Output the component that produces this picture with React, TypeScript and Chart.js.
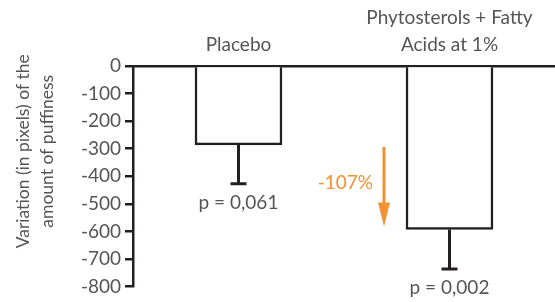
import React, { useEffect, useRef } from 'react';
import { Chart, registerables } from 'chart.js';

Chart.register(...registerables);

const categories: string[][] = [['Placebo'], ['Phytosterols + Fatty', 'Acids at 1%']];
const means: number[] = [-286, -593];
const errorLows: number[] = [-427, -736];
const pValues: string[] = ['p = 0,061', 'p = 0,002'];
const changeLabel = '-107%';
const yMin = -800;
const yMax = 0;
const yStep = 100;
const yTitle: string[] = ['Variation (in pixels) of the', 'amount of puffiness'];

const FONT = 'Lato, "Open Sans", sans-serif';
const TEXT = '#555555';
const INK = '#231f20';
const ORANGE = '#f39232';

const overlay = {
  id: 'overlay',
  afterDraw(chart: any) {
    const { ctx, chartArea, scales } = chart;
    const x = scales.x;
    const y = scales.y;
    const meta = chart.getDatasetMeta(0);
    ctx.save();
    // error bars
    ctx.strokeStyle = INK;
    ctx.lineWidth = 3;
    means.forEach((m, i) => {
      const px = x.getPixelForValue(i);
      const y0 = y.getPixelForValue(m);
      const y1 = y.getPixelForValue(errorLows[i]);
      ctx.beginPath();
      ctx.moveTo(px, y0);
      ctx.lineTo(px, y1);
      ctx.moveTo(px - 8, y1);
      ctx.lineTo(px + 8, y1);
      ctx.stroke();
      ctx.fillStyle = TEXT;
      ctx.font = `19px ${FONT}`;
      ctx.textAlign = 'center';
      ctx.textBaseline = 'middle';
      ctx.fillText(pValues[i], px, y1 + 19);
    });
    // arrow
    const bar = meta.data[1];
    const barLeft = bar.x - bar.width / 2;
    const ax = barLeft - 22;
    const aTop = y.getPixelForValue(means[0]) + 2;
    const aTip = y.getPixelForValue(means[1]) - 3;
    ctx.strokeStyle = ORANGE;
    ctx.fillStyle = ORANGE;
    ctx.lineWidth = 3;
    ctx.beginPath();
    ctx.moveTo(ax, aTop);
    ctx.lineTo(ax, aTip - 20);
    ctx.stroke();
    ctx.beginPath();
    ctx.moveTo(ax - 6, aTip - 24);
    ctx.lineTo(ax + 6, aTip - 24);
    ctx.lineTo(ax, aTip);
    ctx.closePath();
    ctx.fill();
    ctx.font = `19px ${FONT}`;
    ctx.textAlign = 'right';
    ctx.textBaseline = 'middle';
    ctx.fillText(changeLabel, ax - 11, (aTop + aTip) / 2 - 4);
    // y title
    ctx.fillStyle = TEXT;
    ctx.font = `17.5px ${FONT}`;
    ctx.textAlign = 'center';
    ctx.textBaseline = 'middle';
    const cy = (chartArea.top + chartArea.bottom) / 2 - 25;
    yTitle.forEach((line, i) => {
      ctx.save();
      ctx.translate(23 + i * 24, cy);
      ctx.rotate(-Math.PI / 2);
      ctx.fillText(line, 0, 0);
      ctx.restore();
    });
    ctx.restore();
  },
};

export default function App() {
  const ref = useRef<HTMLCanvasElement | null>(null);
  useEffect(() => {
    document.body.style.margin = '0';
    const chart = new Chart(ref.current as HTMLCanvasElement, {
      type: 'bar',
      data: {
        labels: categories as any,
        datasets: [
          {
            data: means,
            backgroundColor: '#ffffff',
            borderColor: INK,
            borderWidth: 2.5,
            barThickness: 87,
          },
        ],
      },
      options: {
        animation: false,
        responsive: true,
        maintainAspectRatio: false,
        layout: { padding: { left: 0, right: 0, top: 0, bottom: 12 } },
        plugins: { legend: { display: false }, tooltip: { enabled: false } },
        scales: {
          x: {
            position: 'top',
            grid: { display: false, drawTicks: false },
            border: { display: true, color: INK, width: 2.5 },
            ticks: {
              color: TEXT,
              padding: 8,
              font: { family: FONT, size: 19, lineHeight: '27px' } as any,
              maxRotation: 0,
            },
            afterFit: (s: any) => {
              s.height = 66;
            },
          },
          y: {
            min: yMin,
            max: yMax,
            grid: { drawOnChartArea: false, drawTicks: true, tickLength: 8, color: INK, lineWidth: 2.5 },
            border: { display: true, color: INK, width: 2.5 },
            ticks: {
              stepSize: yStep,
              color: TEXT,
              padding: 4,
              font: { family: FONT, size: 19 },
            },
            afterFit: (s: any) => {
              s.width = 133;
            },
          },
        },
      },
      plugins: [overlay],
    });
    return () => chart.destroy();
  }, []);
  return (
    <div style={{ width: 555, height: 302, position: 'relative' }}>
      <canvas ref={ref} />
    </div>
  );
}
